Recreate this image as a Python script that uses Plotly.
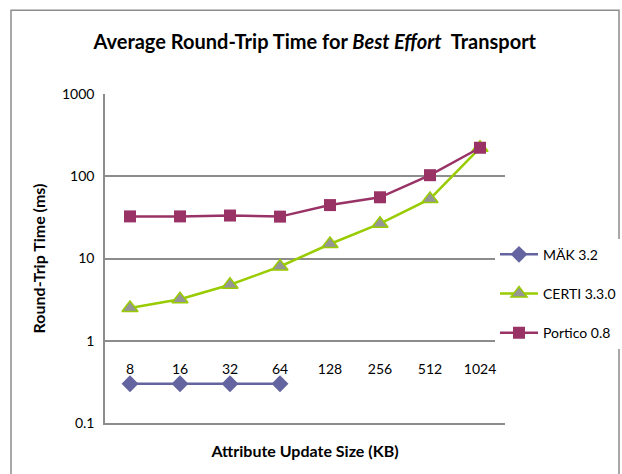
import plotly.graph_objects as go

categories = ["8", "16", "32", "64", "128", "256", "512", "1024"]
mak_values = [0.3, 0.3, 0.3, 0.3]
certi_values = [2.5, 3.2, 4.8, 8.0, 15.0, 26.5, 53.0, 222.0]
portico_values = [32.5, 32.5, 33.3, 32.3, 44.6, 55.5, 103.0, 222.0]
y_tick_vals = [0.1, 1, 10, 100, 1000]
y_tick_text = ["0.1", "1", "10", "100", "1000"]

FONT = "Lato"
GRID = "#8c8c8c"

fig = go.Figure()
fig.add_trace(go.Scatter(
    x=categories[:len(mak_values)], y=mak_values, name="MÄK 3.2", mode="lines+markers",
    line=dict(color="#6464A0", width=2.5),
    marker=dict(symbol="diamond", size=13, color="#6464A0"),
    legendgroup="a"))
fig.add_trace(go.Scatter(
    x=categories, y=certi_values, name="CERTI 3.3.0", mode="lines+markers",
    line=dict(color="#99CC00", width=2.5),
    marker=dict(symbol="triangle-up", size=14, color="#969696", line=dict(color="#99CC00", width=1.5)),
    legendgroup="b"))
fig.add_trace(go.Scatter(
    x=categories, y=portico_values, name="Portico 0.8", mode="lines+markers",
    line=dict(color="#993366", width=2.5),
    marker=dict(symbol="square", size=12, color="#993366"),
    legendgroup="c"))

fig.update_layout(
    width=622, height=474,
    margin=dict(l=105, r=117, t=94, b=50.5, autoexpand=False),
    paper_bgcolor="white", plot_bgcolor="white",
    font=dict(family=FONT, size=14, color="black"),
    title=dict(
        text="<b>Average Round-Trip Time for <i>Best Effort</i>  Transport</b>",
        x=0.506, xref="container", xanchor="center",
        y=1 - 42 / 474, yref="container", yanchor="middle",
        font=dict(family=FONT, size=20, color="black")),
    showlegend=True,
    legend=dict(
        x=0.975, xanchor="left", y=0.56, yanchor="top",
        bgcolor="white", borderwidth=0,
        font=dict(family=FONT, size=14, color="black"),
        tracegroupgap=18, itemwidth=38),
    xaxis=dict(
        type="category", range=[-0.5, len(categories) - 0.5],
        showgrid=False, showticklabels=False, ticks="",
        showline=True, linecolor=GRID, linewidth=1.5,
        title=dict(text="<b>Attribute Update Size (KB)</b>", font=dict(family=FONT, size=16), standoff=22),
        zeroline=False),
    xaxis2=dict(
        overlaying="x", anchor="free", position=0.25,
        range=[-0.5, len(categories) - 0.5],
        tickmode="array", tickvals=list(range(len(categories))), ticktext=categories,
        showgrid=False, showline=False, ticks="", ticklabelstandoff=18,
        tickfont=dict(family=FONT, size=14), zeroline=False),
    yaxis=dict(
        type="log", range=[-1, 3],
        tickmode="array", tickvals=y_tick_vals, ticktext=y_tick_text,
        showgrid=True, gridcolor=GRID, gridwidth=1.5,
        showline=True, linecolor=GRID, linewidth=1.5,
        ticks="", ticklabelstandoff=6,
        title=dict(text="<b>Round-Trip Time (ms)</b>", font=dict(family=FONT, size=16), standoff=12),
        zeroline=False),
)

# invisible helper trace so the overlaid category-label axis renders
fig.add_trace(go.Scatter(x=[0], y=[1], xaxis="x2", mode="markers",
                         marker=dict(opacity=0), showlegend=False, hoverinfo="skip"))

# outer chart border
fig.add_shape(type="rect", xref="paper", yref="paper",
              x0=(11 - 105) / 400, x1=(619 - 105) / 400,
              y0=-0.2, y1=(423.5 - 10) / 329.5,
              line=dict(color="#8c8c8c", width=1.5), layer="below")

fig.write_html("out.html")
